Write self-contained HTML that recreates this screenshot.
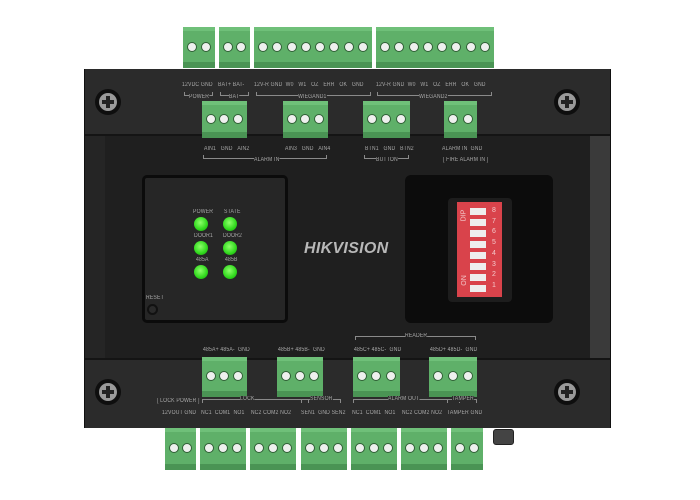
<!DOCTYPE html>
<html><head><meta charset="utf-8"><style>
*{margin:0;padding:0;box-sizing:border-box}
body{width:700px;height:500px;background:#fff;position:relative;overflow:hidden;font-family:"Liberation Sans",sans-serif}
.a{position:absolute}
.c{position:absolute;background:#5fb069;border-top:4px solid #6fc079;border-bottom:6px solid #4a9454;display:flex;justify-content:space-around;align-items:center;padding:0 2px}
.c i{display:block;width:10px;height:10px;border-radius:50%;background:#eef0ee;border:1px solid #2f5e35}
.t{position:absolute;color:#a8a8a8;font-size:6px;white-space:nowrap;transform:scaleX(.85);transform-origin:left top;letter-spacing:.2px}
.br{position:absolute;border:1px solid #8a8a8a;height:4px}
.brt{border-bottom:none}
.brb{border-top:none}
.scr{position:absolute;width:26px;height:26px;border-radius:50%;background:#0e0e0e}
.scr b{position:absolute;left:4px;top:4px;width:18px;height:18px;border-radius:50%;background:#9a9a9a}
.scr b:before,.scr b:after{content:"";position:absolute;background:#222}
.scr b:before{left:7px;top:3px;width:4px;height:12px}
.scr b:after{left:3px;top:7px;width:12px;height:4px}
.led{position:absolute;width:14px;height:14px;border-radius:50%;background:radial-gradient(circle at 45% 40%,#8dff6a,#2fd81c 60%,#1a8a10)}
</style></head><body>
<!-- body -->
<div class="a" style="left:84px;top:69px;width:527px;height:359px;background:#222;border:1px solid #111"></div>
<div class="a" style="left:105px;top:136px;width:485px;height:222px;background:#1f1f1f"></div>
<div class="a" style="left:85px;top:136px;width:20px;height:222px;background:#252525"></div>
<div class="a" style="left:590px;top:136px;width:20px;height:222px;background:#3a3a3a"></div>
<div class="a" style="left:85px;top:69px;width:525px;height:67px;background:#2b2b2b;border-bottom:2px solid #141414"></div>
<div class="a" style="left:85px;top:358px;width:525px;height:70px;background:#2b2b2b;border-top:2px solid #141414"></div>

<!-- screws -->
<div class="scr" style="left:95px;top:89px"><b></b></div>
<div class="scr" style="left:554px;top:89px"><b></b></div>
<div class="scr" style="left:95px;top:379px"><b></b></div>
<div class="scr" style="left:554px;top:379px"><b></b></div>

<!-- top connectors -->
<div class="c" style="left:183px;top:27px;width:32px;height:41px"><i></i><i></i></div>
<div class="c" style="left:219px;top:27px;width:31px;height:41px"><i></i><i></i></div>
<div class="c" style="left:254px;top:27px;width:118px;height:41px"><i></i><i></i><i></i><i></i><i></i><i></i><i></i><i></i></div>
<div class="c" style="left:376px;top:27px;width:118px;height:41px"><i></i><i></i><i></i><i></i><i></i><i></i><i></i><i></i></div>

<div class="t" style="left:182px;top:82px">12VDC GND</div>
<div class="t" style="left:218px;top:82px">BAT+ BAT-</div>
<div class="t" style="left:254px;top:82px">12V-R GND &nbsp;W0 &nbsp;&nbsp;W1 &nbsp;&nbsp;OZ &nbsp;&nbsp;ERR &nbsp;&nbsp;OK &nbsp;&nbsp;GND</div>
<div class="t" style="left:376px;top:82px">12V-R GND &nbsp;W0 &nbsp;&nbsp;W1 &nbsp;&nbsp;OZ &nbsp;&nbsp;ERR &nbsp;&nbsp;OK &nbsp;&nbsp;GND</div>
<div class="br brb" style="left:184px;top:92px;width:29px"></div><div class="t" style="left:189px;top:94px;background:#2b2b2b">POWER</div>
<div class="br brb" style="left:220px;top:92px;width:29px"></div><div class="t" style="left:229px;top:94px;background:#2b2b2b">BAT</div>
<div class="br brb" style="left:256px;top:92px;width:115px"></div><div class="t" style="left:298px;top:94px;background:#2b2b2b">WIEGAND1</div>
<div class="br brb" style="left:377px;top:92px;width:115px"></div><div class="t" style="left:419px;top:94px;background:#2b2b2b">WIEGAND2</div>

<!-- second row top -->
<div class="c" style="left:202px;top:101px;width:45px;height:37px"><i></i><i></i><i></i></div>
<div class="c" style="left:283px;top:101px;width:45px;height:37px"><i></i><i></i><i></i></div>
<div class="c" style="left:363px;top:101px;width:47px;height:37px"><i></i><i></i><i></i></div>
<div class="c" style="left:444px;top:101px;width:33px;height:37px"><i></i><i></i></div>
<div class="t" style="left:204px;top:146px">AIN1 &nbsp;&nbsp;GND &nbsp;&nbsp;AIN2</div>
<div class="t" style="left:285px;top:146px">AIN3 &nbsp;&nbsp;GND &nbsp;&nbsp;AIN4</div>
<div class="t" style="left:365px;top:146px">BTN1 &nbsp;&nbsp;GND &nbsp;&nbsp;BTN2</div>
<div class="t" style="left:442px;top:146px">ALARM IN &nbsp;GND</div>
<div class="br brb" style="left:203px;top:155px;width:124px"></div><div class="t" style="left:254px;top:157px;background:#1f1f1f">ALARM IN</div>
<div class="br brb" style="left:364px;top:155px;width:45px"></div><div class="t" style="left:376px;top:157px;background:#1f1f1f">BUTTON</div>
<div class="t" style="left:443px;top:157px">[ FIRE ALARM IN ]</div>

<!-- LED panel -->
<div class="a" style="left:142px;top:175px;width:146px;height:148px;background:#262626;border:3px solid #0b0b0b;border-radius:5px"></div>
<div class="t" style="left:193px;top:209px">POWER</div><div class="t" style="left:224px;top:209px">STATE</div>
<div class="t" style="left:194px;top:233px">DOOR1</div><div class="t" style="left:223px;top:233px">DOOR2</div>
<div class="t" style="left:196px;top:257px">485A</div><div class="t" style="left:225px;top:257px">485B</div>
<div class="led" style="left:194px;top:217px"></div><div class="led" style="left:223px;top:217px"></div>
<div class="led" style="left:194px;top:241px"></div><div class="led" style="left:223px;top:241px"></div>
<div class="led" style="left:194px;top:265px"></div><div class="led" style="left:223px;top:265px"></div>
<div class="t" style="left:146px;top:295px">RESET</div>
<div class="a" style="left:147px;top:304px;width:11px;height:11px;border-radius:50%;border:2px solid #111;background:#2a2a2a"></div>

<div class="a" style="left:304px;top:240px;color:#b8b8b8;font-size:16px;font-weight:bold;font-style:italic;letter-spacing:.3px">HIKVISION</div>

<!-- DIP -->
<div class="a" style="left:405px;top:175px;width:148px;height:148px;background:#0c0c0c;border-radius:6px"></div>
<div class="a" style="left:448px;top:198px;width:64px;height:104px;background:#1d1d1d;border-radius:4px"></div>
<div class="a" style="left:457px;top:202px;width:45px;height:95px;background:#d9434b"></div>
<div class="a" style="left:470px;top:208px;width:16px;height:84px;display:flex;flex-direction:column;justify-content:space-between">
<i style="display:block;height:7px;background:#eee"></i><i style="display:block;height:7px;background:#eee"></i><i style="display:block;height:7px;background:#eee"></i><i style="display:block;height:7px;background:#eee"></i><i style="display:block;height:7px;background:#eee"></i><i style="display:block;height:7px;background:#eee"></i><i style="display:block;height:7px;background:#eee"></i><i style="display:block;height:7px;background:#eee"></i></div>
<div class="a" style="left:489px;top:206px;width:10px;font-size:7px;line-height:10.7px;color:#f3c8ca;text-align:center">8<br>7<br>6<br>5<br>4<br>3<br>2<br>1</div>
<div class="a" style="left:458px;top:212px;font-size:7px;color:#f3c8ca;transform:rotate(-90deg)">DIP</div>
<div class="a" style="left:459px;top:277px;font-size:7px;color:#f3c8ca;transform:rotate(-90deg)">ON</div>

<!-- bottom upper row -->
<div class="br brt" style="left:355px;top:336px;width:121px"></div><div class="t" style="left:405px;top:333px;background:#1f1f1f">READER</div>
<div class="t" style="left:203px;top:347px">485A+ 485A- &nbsp;GND</div>
<div class="t" style="left:278px;top:347px">485B+ 485B- &nbsp;GND</div>
<div class="t" style="left:354px;top:347px">485C+ 485C- &nbsp;GND</div>
<div class="t" style="left:430px;top:347px">485D+ 485D- &nbsp;GND</div>
<div class="c" style="left:202px;top:357px;width:45px;height:40px"><i></i><i></i><i></i></div>
<div class="c" style="left:277px;top:357px;width:46px;height:40px"><i></i><i></i><i></i></div>
<div class="c" style="left:353px;top:357px;width:47px;height:40px"><i></i><i></i><i></i></div>
<div class="c" style="left:429px;top:357px;width:48px;height:40px"><i></i><i></i><i></i></div>

<div class="t" style="left:157px;top:398px">[ LOCK POWER ]</div>
<div class="br brt" style="left:202px;top:399px;width:107px"></div><div class="t" style="left:240px;top:396px;background:#2b2b2b">LOCK</div>
<div class="br brt" style="left:301px;top:399px;width:40px"></div><div class="t" style="left:310px;top:396px;background:#2b2b2b">SENSOR</div>
<div class="br brt" style="left:353px;top:399px;width:107px"></div><div class="t" style="left:388px;top:396px;background:#2b2b2b">ALARM OUT</div>
<div class="br brt" style="left:447px;top:399px;width:30px"></div><div class="t" style="left:452px;top:396px;background:#2b2b2b">TAMPER</div>
<div class="t" style="left:162px;top:410px">12VOUT GND</div>
<div class="t" style="left:201px;top:410px">NC1 &nbsp;COM1 &nbsp;NO1 &nbsp;&nbsp;&nbsp;NC2 COM2 NO2</div>
<div class="t" style="left:301px;top:410px">SEN1 &nbsp;GND SEN2</div>
<div class="t" style="left:352px;top:410px">NC1 &nbsp;COM1 &nbsp;NO1 &nbsp;&nbsp;&nbsp;NC2 COM2 NO2</div>
<div class="t" style="left:447px;top:410px">TAMPER GND</div>

<!-- bottom connectors -->
<div class="c" style="left:165px;top:428px;width:31px;height:42px"><i></i><i></i></div>
<div class="c" style="left:200px;top:428px;width:46px;height:42px"><i></i><i></i><i></i></div>
<div class="c" style="left:250px;top:428px;width:46px;height:42px"><i></i><i></i><i></i></div>
<div class="c" style="left:301px;top:428px;width:46px;height:42px"><i></i><i></i><i></i></div>
<div class="c" style="left:351px;top:428px;width:46px;height:42px"><i></i><i></i><i></i></div>
<div class="c" style="left:401px;top:428px;width:46px;height:42px"><i></i><i></i><i></i></div>
<div class="c" style="left:451px;top:428px;width:32px;height:42px"><i></i><i></i></div>
<div class="a" style="left:493px;top:429px;width:21px;height:16px;background:#444;border-radius:3px;border:1px solid #222"></div>
</body></html>
